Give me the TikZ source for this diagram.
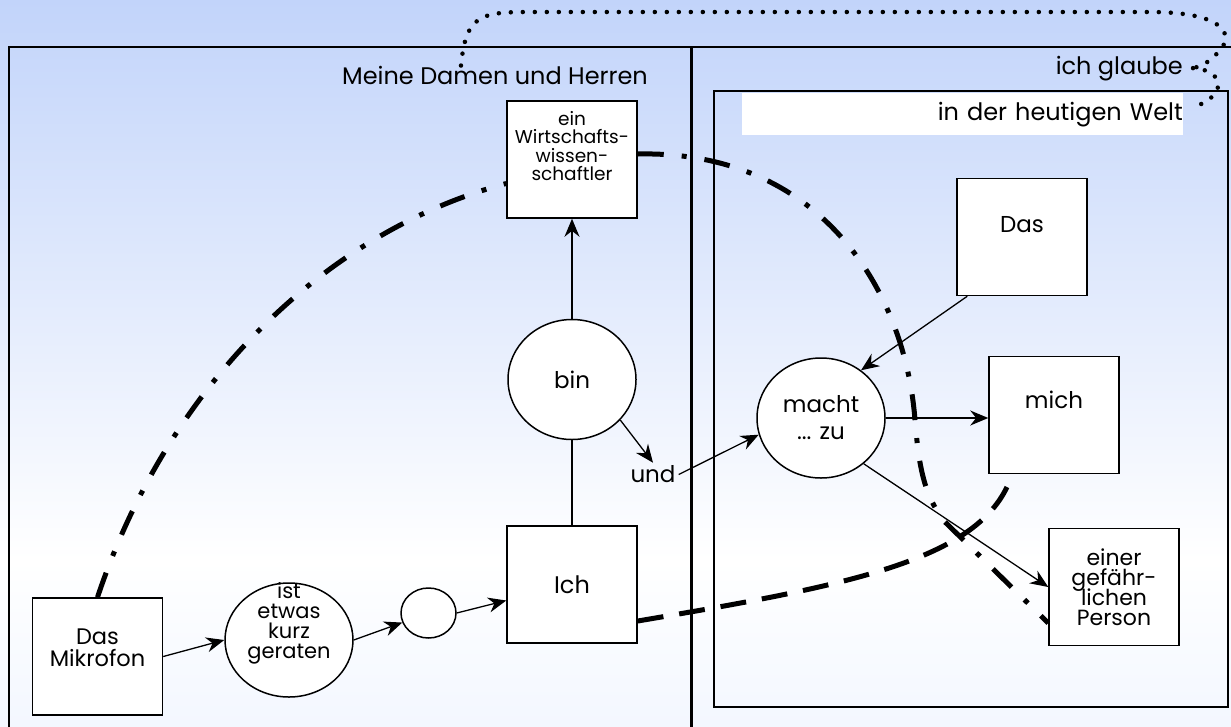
\documentclass[tikz,border=0pt]{standalone}
\usepackage{fontspec}
\setmainfont{Poppins}
\usetikzlibrary{arrows.meta, positioning, shapes.geometric}

\definecolor{bgtop}{RGB}{194,212,250}
\definecolor{bgbot}{RGB}{243,247,255}
\setlength{\lineskiplimit}{-20pt}

\begin{document}
\begin{tikzpicture}[
  x=1pt, y=-1pt,
  box/.style={draw, line width=1.5pt, fill=white, minimum width=130pt, minimum height=117pt, inner sep=0pt, align=center, font=\fontsize{23}{27}\selectfont},
  oval/.style={ellipse, draw, line width=1.5pt, fill=white, minimum width=128pt, minimum height=120pt, inner sep=0pt, align=center, font=\fontsize{23}{27}\selectfont},
  panel/.style={draw, line width=2pt},
  lbl/.style={inner sep=0pt, font=\fontsize{24}{28}\selectfont},
  arr/.style={-{Stealth[length=18pt, width=15pt]}, line width=1.3pt},
  link/.style={line width=1.3pt},
  dashdot/.style={line width=5pt, dash pattern=on 26pt off 18pt on 5pt off 18pt},
  longdash/.style={line width=5pt, dash pattern=on 26pt off 16pt},
  dots/.style={line width=4.5pt, line cap=round, dash pattern=on 0pt off 12pt}
]
\useasboundingbox (0,0) rectangle (1231,726);
\clip (0,0) rectangle (1231,726);
\shade[top color=bgtop, bottom color=white] (0,0) rectangle (1231,560);
\shade[top color=white, bottom color=bgbot] (0,560) rectangle (1231,726);

\draw[panel] (9,47) rectangle (691,740);
\draw[panel] (692,47) rectangle (1250,740);
\draw[panel] (714,91) rectangle (1228,707);

\node[lbl, anchor=base east] (damen) at (648,84) {Meine Damen und Herren};
\node[lbl, anchor=base east] (glaube) at (1183,74) {ich glaube};
\node[lbl, fill=white, anchor=north east, minimum width=441pt, minimum height=42pt, text width=441pt, align=right] (welt) at (1183,93) {in der heutigen Welt};

\node[box, text depth=18pt, font=\fontsize{22.5}{22}\selectfont] (mikro) at (97.5,656.5) {Das\\Mikrofon};
\node[oval, minimum height=114pt, text depth=39pt, inner ysep=-45pt, font=\fontsize{21}{20}\selectfont] (kurz) at (289,640) {ist\\etwas\\kurz\\geraten};
\node[oval, minimum width=55pt, minimum height=50pt] (knot) at (428.5,613) {};
\node[box, font=\fontsize{24}{28}\selectfont] (ich) at (572,584.5) {Ich};
\node[oval, above=85pt of ich] (bin) {bin};
\node[box, above=100pt of bin, text depth=27pt, font=\fontsize{18.5}{18.5}\selectfont] (wirt) {ein\\Wirtschafts-\\wissen-\\schaftler};
\node[lbl, inner sep=3pt, font=\fontsize{23}{27}\selectfont] (und) at (653,474.5) {und};

\node[box, text height=17pt, text depth=27pt] (das) at (1022,237) {Das};
\node[oval] (macht) at (821,418) {macht\\... zu};
\node[box, text height=17pt, text depth=31pt] (mich) at (1054,415) {mich};
\node[box, font=\fontsize{22}{20}\selectfont] (person) at (1114,587) {einer\\gefähr-\\lichen\\Person};

\draw[arr] (mikro.east) -- (kurz.west);
\draw[arr] (kurz.east) -- (knot.200);
\draw[arr] (knot.east) -- ([yshift=-16pt]ich.west);
\draw[link] (ich) -- (bin);
\draw[arr] (bin) -- (wirt);
\draw[arr] (bin.-40) -- (und.north);
\draw[arr] (und.east) -- (macht.195);
\draw[arr] ([xshift=11pt]das.south west) -- (macht.50);
\draw[arr] (macht.east) -- (macht.east -| mich.west);
\draw[arr] (macht.-47) -- (person.west);

\draw[dashdot] (mikro.north) .. controls (170,380) and (330,230) .. ([yshift=-24pt]wirt.west);
\draw[dashdot] ([yshift=5.5pt]wirt.east) .. controls (820,150) and (905,290) .. (915,420) .. controls (919,470) and (925,497) .. (945,522) -- ([yshift=-36pt]person.west);
\draw[longdash] ([yshift=-36.5pt]ich.east) .. controls (850,585) and (985,560) .. ([xshift=-42pt]mich.south);

\draw[dots] ([xshift=-34pt]damen.north) .. controls (466,15) and (480,12) .. (530,12) -- (1150,12) .. controls (1225,12) and (1234,35) .. (1220,50) .. controls (1212,60) and (1203,66) .. ([xshift=10pt]glaube.east);
\draw[dots] ([xshift=10pt]glaube.east) .. controls (1225,70) and (1228,96) .. ([xshift=10pt,yshift=7pt]welt.east);
\end{tikzpicture}
\end{document}
